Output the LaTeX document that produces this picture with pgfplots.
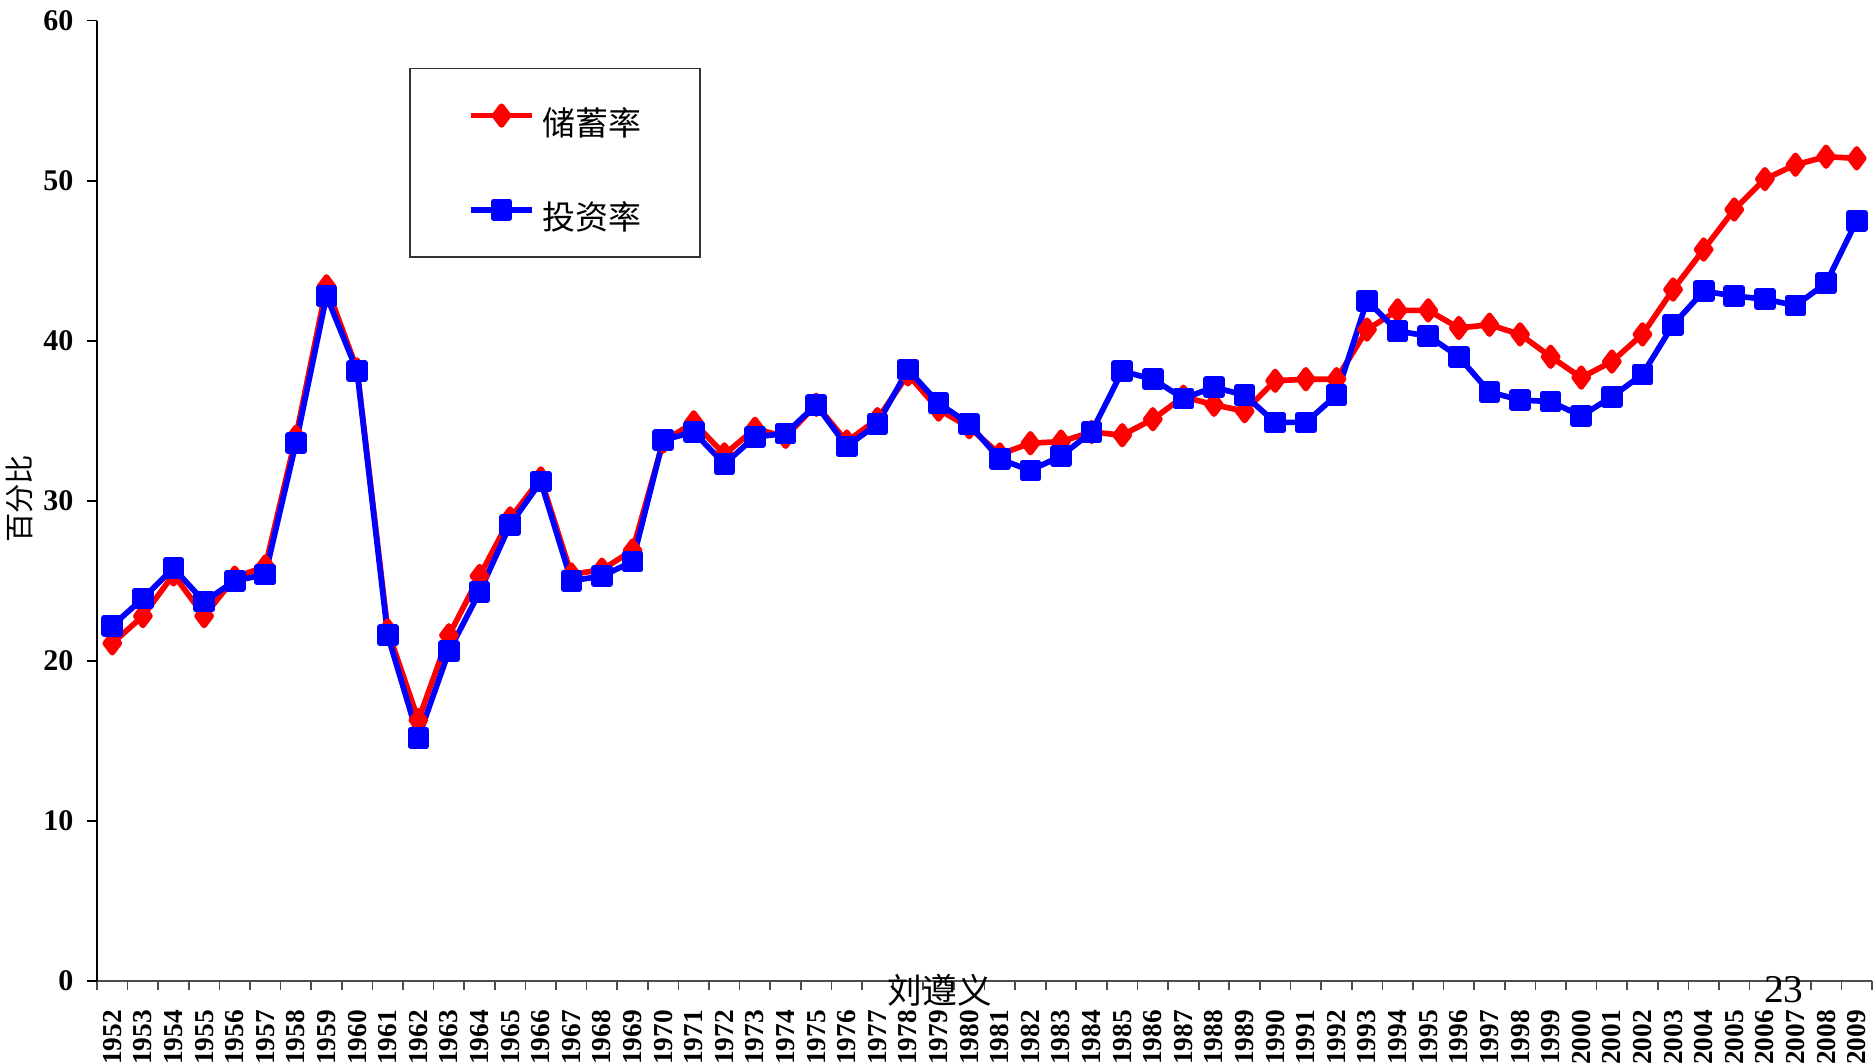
\documentclass[border=0pt]{standalone}
\usepackage{fontspec}
\setmainfont{Liberation Serif}
\newfontfamily\cjk{Noto Sans CJK SC}
\usepackage{pgfplots}
\usepackage{pgfplotstable}
\pgfplotsset{compat=1.18}

% savings rate (sav) and investment rate (inv), percent
\pgfplotstableread{
year sav inv
1952 21.1 22.2
1953 22.8 23.9
1954 25.4 25.8
1955 22.8 23.7
1956 25.2 25.0
1957 25.9 25.4
1958 34.0 33.6
1959 43.4 42.8
1960 38.2 38.1
1961 21.9 21.6
1962 16.3 15.2
1963 21.6 20.6
1964 25.3 24.3
1965 28.9 28.5
1966 31.4 31.2
1967 25.4 25.0
1968 25.7 25.3
1969 26.9 26.2
1970 33.7 33.8
1971 34.9 34.3
1972 32.9 32.3
1973 34.5 34.0
1974 34.0 34.2
1975 36.0 36.0
1976 33.7 33.4
1977 35.1 34.8
1978 37.9 38.2
1979 35.7 36.1
1980 34.6 34.8
1981 32.9 32.6
1982 33.6 31.9
1983 33.7 32.8
1984 34.3 34.3
1985 34.1 38.1
1986 35.1 37.6
1987 36.5 36.4
1988 36.0 37.1
1989 35.6 36.6
1990 37.5 34.9
1991 37.6 34.9
1992 37.6 36.6
1993 40.7 42.5
1994 41.9 40.6
1995 41.9 40.3
1996 40.8 39.0
1997 41.0 36.8
1998 40.4 36.3
1999 39.0 36.2
2000 37.7 35.3
2001 38.7 36.5
2002 40.4 37.9
2003 43.2 41.0
2004 45.7 43.1
2005 48.2 42.8
2006 50.1 42.6
2007 51.0 42.2
2008 51.5 43.6
2009 51.4 47.5
}\rates

\begin{document}
\begin{tikzpicture}
\begin{axis}[
    scale only axis,
    width=532.5pt, height=288.1pt,
    xmin=1951.5, xmax=2009.5,
    ymin=0, ymax=60,
    clip=false,
    axis x line*=bottom,
    axis y line*=left,
    x axis line style={gray!60!black, line width=0.5pt},
    y axis line style={black, line width=0.5pt},
    tick align=outside,
    xtick=data,
    major x tick style={draw=none},
    minor xtick={1951.5,1952.5,...,2009.5},
    minor x tick style={gray!60!black, line width=0.5pt},
    minor tick length=2.6pt,
    ytick={0,10,...,60},
    major y tick style={black, line width=0.5pt},
    major tick length=3pt,
    /pgf/number format/1000 sep={},
    /pgf/number format/assume math mode=true,
    xticklabel style={rotate=90, anchor=east, inner sep=0pt,
        font=\bfseries\fontsize{8.2}{9}\selectfont},
    xticklabel shift=5.5pt,
    yticklabel style={anchor=east, inner sep=0pt,
        font=\bfseries\fontsize{9}{10}\selectfont},
    yticklabel shift=3.9pt,
    ylabel={百分比},
    ylabel style={font=\cjk\fontsize{8.8}{10}\selectfont,
        at={(axis description cs:-0.0434,0.502)}, anchor=center, inner sep=0pt},
    legend style={at={(0.1758,0.9509)}, anchor=north west,
        draw=black!80, line width=0.5pt,
        inner xsep=17.5pt, inner ysep=7.75pt, row sep=15.64pt,
        column sep=2.4pt,
        nodes={inner sep=0pt, text height=12.18pt, text depth=0.48pt},
        font=\cjk\fontsize{9.9}{11}\selectfont},
    legend cell align=left,
    legend image code/.code={
        \draw[mark repeat=2, mark phase=2, #1]
        plot coordinates {(0pt,0pt) (9.15pt,0pt) (18.3pt,0pt)};
    },
]
\addplot[red, line width=1.7pt, line join=round, mark=diamond*,
    mark size=2.8pt, mark options={solid}]
    table[x=year, y=sav] {\rates};
\addlegendentry{储蓄率}
\addplot[blue, line width=1.7pt, line join=round, mark=square*,
    mark size=2.4pt, mark options={solid}]
    table[x=year, y=inv] {\rates};
\addlegendentry{投资率}

\node[font=\cjk\fontsize{10.4}{12}\selectfont, inner sep=0pt]
    at (rel axis cs:0.4749,-0.0094) {刘遵义};
\node[font=\fontsize{11.8}{13}\selectfont, inner sep=0pt, anchor=base]
    at (rel axis cs:0.9504,-0.0219) {23};
\end{axis}
\pgfresetboundingbox
\path[use as bounding box] (-29.1pt,-24.3pt) rectangle (533.1pt,294.3pt);
\end{tikzpicture}
\end{document}
